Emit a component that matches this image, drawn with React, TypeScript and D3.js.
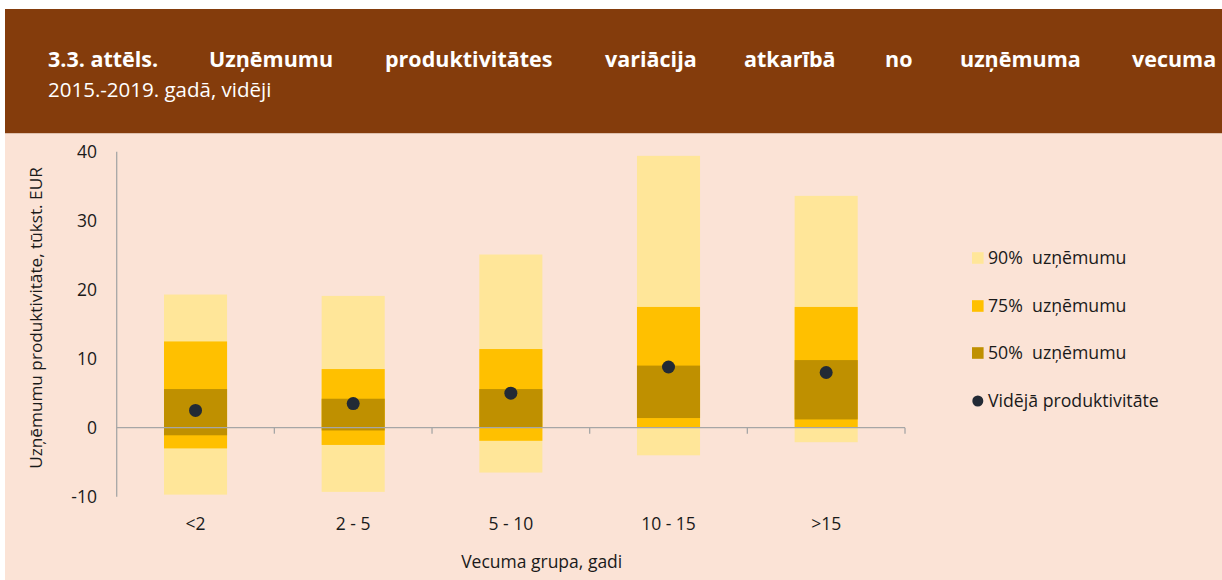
import React from "react";
import * as d3 from "d3";

const categories = ["<2", "2 - 5", "5 - 10", "10 - 15", ">15"];
const p90Low = [-9.7, -9.3, -6.5, -4.0, -2.1];
const p90High = [19.3, 19.1, 25.1, 39.4, 33.6];
const p75Low = [-3.0, -2.5, -1.9, 0, 0];
const p75High = [12.5, 8.5, 11.4, 17.5, 17.5];
const p50Low = [-1.1, -0.4, 0, 1.4, 1.2];
const p50High = [5.6, 4.2, 5.6, 9.0, 9.8];
const meanValues = [2.5, 3.5, 5.0, 8.8, 8.0];
const yTicks = [-10, 0, 10, 20, 30, 40];

const titleWords = ["3.3. attēls.", "Uzņēmumu", "produktivitātes", "variācija", "atkarībā", "no", "uzņēmuma", "vecuma"];
const titleWordX = [48, 209, 385, 605, 744, 885, 960, 1132];
const subtitle = "2015.-2019. gadā, vidēji";
const yTitle = "Uzņēmumu produktivitāte, tūkst. EUR";
const xTitle = "Vecuma grupa, gadi";
const legendLabels = ["90%  uzņēmumu", "75%  uzņēmumu", "50%  uzņēmumu", "Vidējā produktivitāte"];

const C90 = "#FFE699";
const C75 = "#FFC000";
const C50 = "#BF9000";
const CDOT = "#222A35";
const AXIS = "#A6A6A6";
const TEXT = "#1a1a1a";
const FONT = "'Segoe UI', 'Open Sans', 'Noto Sans', sans-serif";

export default function App() {
  const W = 1222, H = 580;
  const y = d3.scaleLinear().domain([-10, 40]).range([496.7, 151.7]);
  const x = d3.scaleBand<string>().domain(categories).range([116.7, 905]).paddingInner(0).paddingOuter(0);
  const bw = x.bandwidth();
  const barW = bw * 0.4;
  const cx = (c: string) => (x(c) as number) + bw / 2;

  const bands = [
    { low: p90Low, high: p90High, color: C90 },
    { low: p75Low, high: p75High, color: C75 },
    { low: p50Low, high: p50High, color: C50 },
  ];

  const legendY = [258, 306, 353, 401];
  const legendColors = [C90, C75, C50];

  return (
    <div style={{ position: "absolute", left: 0, top: 0 }}>
      <svg width={W} height={H} style={{ display: "block", fontFamily: FONT }}>
        <rect x={0} y={0} width={W} height={H} fill="#ffffff" />
        <rect x={5} y={9} width={W - 5} height={124.5} fill="#843C0C" />
        <rect x={5} y={133.5} width={W - 5} height={H - 133.5} fill="#FBE3D6" />
        {titleWords.map((w, i) => (
          <text key={w} x={titleWordX[i]} y={67} fill="#fff" fontSize={21.5} fontWeight={700}>{w}</text>
        ))}
        <text x={48} y={97} fill="#fff" fontSize={20.5}>{subtitle}</text>

        {bands.map((b, bi) =>
          categories.map((c, i) => (
            <rect key={bi + "-" + c} x={cx(c) - barW / 2} y={y(b.high[i])} width={barW}
              height={y(b.low[i]) - y(b.high[i])} fill={b.color} />
          ))
        )}

        <line x1={116.7} x2={116.7} y1={y(40)} y2={y(-10)} stroke={AXIS} strokeWidth={1.3} />
        <line x1={116.7} x2={905} y1={y(0)} y2={y(0)} stroke={AXIS} strokeWidth={1.3} />
        {categories.map((c) => {
          const xe = (x(c) as number) + bw;
          return <line key={"t" + c} x1={xe} x2={xe} y1={y(0)} y2={y(0) + 6} stroke={AXIS} strokeWidth={1.3} />;
        })}

        {categories.map((c, i) => (
          <circle key={"m" + c} cx={cx(c)} cy={y(meanValues[i])} r={6.5} fill={CDOT} />
        ))}

        {yTicks.map((t) => (
          <text key={"y" + t} x={97} y={y(t)} dy="0.35em" textAnchor="end" fontSize={17.5} fill={TEXT}>{t}</text>
        ))}
        {categories.map((c) => (
          <text key={"x" + c} x={cx(c)} y={530} textAnchor="middle" fontSize={17.5} fill={TEXT}>{c}</text>
        ))}
        <text x={541.7} y={568} textAnchor="middle" fontSize={17.5} fill={TEXT}>{xTitle}</text>
        <text transform={`translate(42,318) rotate(-90)`} textAnchor="middle" fontSize={17.2} fill={TEXT}>{yTitle}</text>

        {legendLabels.map((l, i) => (
          <g key={l}>
            {i < 3 ? (
              <rect x={972} y={legendY[i] - 5.8} width={11.6} height={11.6} fill={legendColors[i]} />
            ) : (
              <circle cx={977.8} cy={legendY[i]} r={5.5} fill={CDOT} />
            )}
            <text x={988} y={legendY[i]} dy="0.35em" fontSize={17.7} fill={TEXT} style={{ whiteSpace: "pre" }}>{l}</text>
          </g>
        ))}
      </svg>
    </div>
  );
}
